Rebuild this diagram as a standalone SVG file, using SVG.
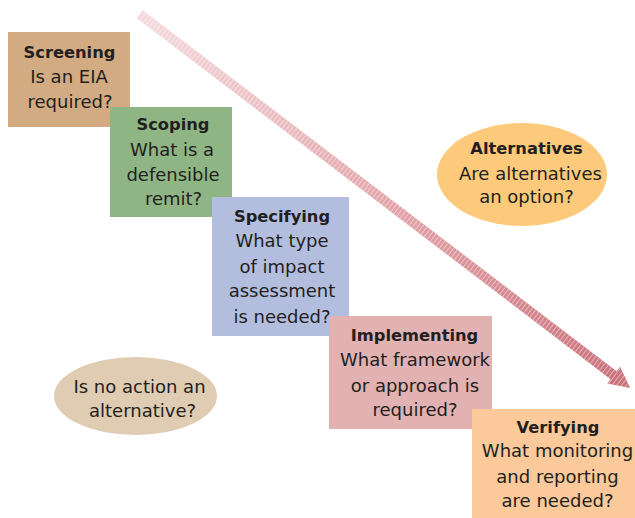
<svg xmlns="http://www.w3.org/2000/svg" width="635" height="518" viewBox="0 0 635 518">
<style>
  .t{font-family:"DejaVu Sans",sans-serif;font-size:18px;fill:#231f20;text-anchor:middle}
  .b{font-family:"DejaVu Sans",sans-serif;font-size:16.3px;font-weight:bold;fill:#231f20;text-anchor:middle}
</style>
<defs>
  <linearGradient id="ag" gradientUnits="userSpaceOnUse" x1="0" y1="0" x2="617" y2="0">
    <stop offset="0" stop-color="#f5dadd"/>
    <stop offset="0.5" stop-color="#e3a6ab"/>
    <stop offset="1" stop-color="#c96f79"/>
  </linearGradient>
  <pattern id="st" patternUnits="userSpaceOnUse" width="3.8" height="30" y="-15">
    <rect x="0" y="0" width="0.9" height="30" fill="#ffffff" fill-opacity="0.5"/>
  </pattern>
</defs>
<rect width="635" height="518" fill="#ffffff"/>
<g id="connectors">
  <g transform="translate(139.5,14) rotate(37.3)">
    <path d="M0,-5 L596,-5 L596,-10.5 L617,0 L596,10.5 L596,5 L0,5 Z" fill="url(#ag)"/>
    <path d="M0,-5 L596,-5 L596,-10.5 L617,0 L596,10.5 L596,5 L0,5 Z" fill="url(#st)"/>
  </g>
</g>
<g id="screening">
  <rect x="8" y="32" width="122" height="95" fill="#d3ab82"/>
  <text class="b" x="69.5" y="58">Screening</text>
  <text class="t" x="69" y="83">Is an EIA</text>
  <text class="t" x="70" y="107.5">required?</text>
</g>
<g id="scoping">
  <rect x="110" y="107" width="122" height="110" fill="#8fb584"/>
  <text class="b" x="173" y="130">Scoping</text>
  <text class="t" x="172" y="156">What is a</text>
  <text class="t" x="173" y="180.5">defensible</text>
  <text class="t" x="173.5" y="205">remit?</text>
</g>
<g id="specifying">
  <rect x="212" y="197" width="137" height="139" fill="#b3bedf"/>
  <text class="b" x="282" y="222">Specifying</text>
  <text class="t" x="282" y="247">What type</text>
  <text class="t" x="282" y="272.5">of impact</text>
  <text class="t" x="282" y="297">assessment</text>
  <text class="t" x="282" y="322.5">is needed?</text>
</g>
<g id="implementing">
  <rect x="329" y="316" width="163" height="113" fill="#e2b1b2"/>
  <text class="b" x="414.5" y="340.5">Implementing</text>
  <text class="t" x="415" y="366">What framework</text>
  <text class="t" x="415" y="391.5">or approach is</text>
  <text class="t" x="415" y="416">required?</text>
</g>
<g id="verifying">
  <rect x="472" y="409" width="163" height="109" fill="#fbc99a"/>
  <text class="b" x="558" y="433">Verifying</text>
  <text class="t" x="557.5" y="457">What monitoring</text>
  <text class="t" x="557.5" y="482.5">and reporting</text>
  <text class="t" x="557.5" y="506.5">are needed?</text>
</g>
<g id="alternatives">
  <ellipse cx="522" cy="174.5" rx="85" ry="51.5" fill="#fdca7c"/>
  <text class="b" x="526.5" y="154">Alternatives</text>
  <text class="t" x="530.5" y="180">Are alternatives</text>
  <text class="t" x="526.5" y="203">an option?</text>
</g>
<g id="no-action">
  <ellipse cx="135.5" cy="396" rx="81.5" ry="39" fill="#e0ccb2"/>
  <text class="t" x="139.5" y="393">Is no action an</text>
  <text class="t" x="142.5" y="416.5">alternative?</text>
</g>
</svg>
